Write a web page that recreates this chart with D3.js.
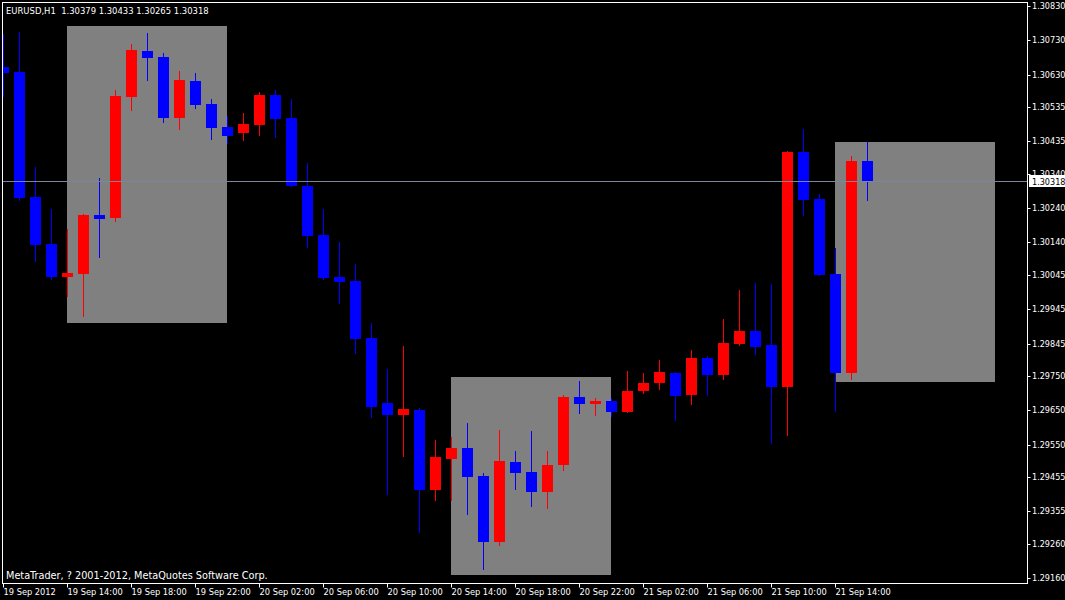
<!DOCTYPE html>
<html><head><meta charset="utf-8">
<script src="https://cdn.jsdelivr.net/npm/d3@7"></script>
<style>
html,body{margin:0;padding:0;background:#000;overflow:hidden;}
text{font-family:"DejaVu Sans Condensed","DejaVu Sans",sans-serif;}
</style></head>
<body><svg id="c" width="1065" height="600"></svg>
<script>
// ---- data ----
const symbolTitle = "EURUSD,H1";
const copyright = "MetaTrader, ? 2001-2012, MetaQuotes Software Corp.";
const barIndex = d3.range(55);
const opens  = [1.30652,1.30637,1.30273,1.30136,1.30039,1.30048,1.30220,1.30211,1.30564,1.30699,1.30681,1.30503,1.30611,1.30544,1.30477,1.30459,1.30483,1.30570,1.30503,1.30305,1.30162,1.30039,1.30028,1.29861,1.29672,1.29637,1.29651,1.29418,1.29508,1.29540,1.29459,1.29266,1.29499,1.29470,1.29412,1.29491,1.29689,1.29669,1.29677,1.29645,1.29707,1.29730,1.29759,1.29695,1.29803,1.29753,1.29844,1.29882,1.29841,1.29718,1.30404,1.30267,1.30048,1.29759,1.30379];
const highs  = [1.30748,1.30754,1.30360,1.30238,1.30179,1.30223,1.30328,1.30585,1.30719,1.30751,1.30693,1.30640,1.30634,1.30559,1.30509,1.30518,1.30579,1.30585,1.30559,1.30372,1.30238,1.30141,1.30077,1.29905,1.29771,1.29838,1.29657,1.29564,1.29572,1.29613,1.29467,1.29593,1.29532,1.29590,1.29532,1.29695,1.29736,1.29686,1.29686,1.29765,1.29759,1.29797,1.29762,1.29826,1.29809,1.29917,1.30001,1.30022,1.30019,1.30407,1.30471,1.30281,1.30124,1.30392,1.30433];
const lows   = [1.30567,1.30264,1.30086,1.30033,1.29984,1.29925,1.30098,1.30203,1.30527,1.30614,1.30492,1.30471,1.30532,1.30442,1.30430,1.30439,1.30454,1.30448,1.30305,1.30127,1.30033,1.29963,1.29818,1.29631,1.29406,1.29517,1.29295,1.29389,1.29389,1.29348,1.29187,1.29257,1.29421,1.29371,1.29365,1.29476,1.29642,1.29637,1.29634,1.29645,1.29701,1.29712,1.29622,1.29669,1.29695,1.29742,1.29841,1.29815,1.29555,1.29578,1.30220,1.30045,1.29648,1.29742,1.30265];
const closes = [1.30634,1.30270,1.30133,1.30039,1.30051,1.30220,1.30209,1.30567,1.30702,1.30678,1.30503,1.30614,1.30541,1.30474,1.30451,1.30486,1.30570,1.30500,1.30305,1.30159,1.30036,1.30025,1.29858,1.29660,1.29637,1.29654,1.29418,1.29514,1.29540,1.29456,1.29266,1.29502,1.29467,1.29412,1.29491,1.29689,1.29669,1.29677,1.29645,1.29707,1.29730,1.29762,1.29692,1.29803,1.29753,1.29847,1.29882,1.29835,1.29718,1.30404,1.30264,1.30045,1.29759,1.30378,1.30318];
const currentPrice = 1.30318;
// session boxes: [start bar, end bar, top price, bottom price]
const boxStart = [4, 28, 52];
const boxEnd   = [14, 38, 62];
const boxTop   = [1.30772, 1.29747, 1.30433];
const boxBottom= [1.29905, 1.29170, 1.29733];
const priceTicks = ["1.30830","1.30730","1.30630","1.30535","1.30435","1.30340","1.30240","1.30140","1.30045","1.29945","1.29845","1.29750","1.29650","1.29550","1.29455","1.29355","1.29260","1.29160"];
const timeTickBars = [0,4,8,12,16,20,24,28,32,36,40,44,48,52];
const timeTickLabels = ["19 Sep 2012","19 Sep 14:00","19 Sep 18:00","19 Sep 22:00","20 Sep 02:00","20 Sep 06:00","20 Sep 10:00","20 Sep 14:00","20 Sep 18:00","20 Sep 22:00","21 Sep 02:00","21 Sep 06:00","21 Sep 10:00","21 Sep 14:00"];

// ---- layout ----
const svg = d3.select("#c");
const L = 2, T = 2, R = 1027, B = 583;
const x = d3.scaleLinear().domain([0, 64]).range([3.5, 1027.5]);
const y = d3.scaleLinear().domain([1.30830, 1.29160]).range([6, 578.3]);
const bull = "#ff0000", bear = "#0000ff";
const FF = "'DejaVu Sans Condensed','DejaVu Sans',sans-serif";

svg.append("rect").attr("width",1065).attr("height",600).attr("fill","#000");
svg.append("defs").append("clipPath").attr("id","plot")
  .append("rect").attr("x",L+1).attr("y",T+1).attr("width",R-L-1).attr("height",B-T-1);
const g = svg.append("g").attr("clip-path","url(#plot)");

// boxes
g.selectAll("rect.box").data(boxStart).join("rect").attr("class","box")
  .attr("x",(d)=>Math.floor(x(d)))
  .attr("width",(d,i)=>Math.floor(x(boxEnd[i]))-Math.floor(x(d)))
  .attr("y",(d,i)=>Math.round(y(boxTop[i])))
  .attr("height",(d,i)=>Math.round(y(boxBottom[i]))-Math.round(y(boxTop[i])))
  .attr("fill","#808080");

// candles
const cg = g.selectAll("g.c").data(barIndex).join("g").attr("class","c");
cg.append("line")
  .attr("x1",i=>Math.floor(x(i))+0.5).attr("x2",i=>Math.floor(x(i))+0.5)
  .attr("y1",i=>Math.round(y(highs[i]))).attr("y2",i=>Math.round(y(lows[i]))+1)
  .attr("stroke",i=>closes[i]>=opens[i]?bull:bear).attr("stroke-width",1);
cg.append("rect")
  .attr("x",i=>Math.floor(x(i))-5).attr("width",11)
  .attr("y",i=>Math.round(y(Math.max(opens[i],closes[i]))))
  .attr("height",i=>Math.max(1,Math.round(y(Math.min(opens[i],closes[i])))-Math.round(y(Math.max(opens[i],closes[i])))))
  .attr("fill",i=>closes[i]>=opens[i]?bull:bear);

// bid line
const yb = Math.round(y(currentPrice))+0.5;
svg.append("line").attr("x1",L+1).attr("x2",R).attr("y1",yb).attr("y2",yb)
  .attr("stroke","#778899").attr("stroke-width",1);

// frame
svg.append("rect").attr("x",L+0.5).attr("y",T+0.5).attr("width",R-L).attr("height",B-T)
  .attr("fill","none").attr("stroke","#fff").attr("stroke-width",1);

// right axis (skip label hidden behind the current price label)
const ay = svg.append("g").attr("transform",`translate(${R+0.5},0)`)
  .call(d3.axisRight(y).tickValues(priceTicks.map(Number)).tickFormat((d,i)=>priceTicks[i]).tickSize(3).tickPadding(2));
ay.select(".domain").remove();
ay.selectAll("line").attr("stroke","#fff");
ay.selectAll(".tick").attr("transform",d=>`translate(0,${Math.round(y(d))+0.5})`);
ay.selectAll("text").attr("fill","#fff").attr("font-size","9px").attr("x",4.5).attr("font-family",FF);

// current price label
svg.append("rect").attr("x",1029).attr("y",yb-6.5).attr("width",36).attr("height",12).attr("fill","#fff");
svg.append("text").attr("x",1032).attr("y",yb+3.5).attr("fill","#000").attr("font-size","9px").attr("font-family",FF).text(currentPrice.toFixed(5));

// bottom axis
const ax = svg.append("g").attr("transform",`translate(0,${B+0.5})`)
  .call(d3.axisBottom(x).tickValues(timeTickBars).tickFormat((d,i)=>timeTickLabels[i]).tickSize(4).tickPadding(2));
ax.select(".domain").remove();
ax.selectAll(".tick").attr("transform",d=>`translate(${Math.floor(x(d))+0.5},0)`);
ax.selectAll("line").attr("stroke","#fff");
ax.selectAll("text").attr("fill","#fff").attr("font-size","9.2px").attr("text-anchor","start").attr("x",0).attr("y",5).attr("font-family",FF);

// title & copyright
svg.append("text").attr("x",6).attr("y",14).attr("fill","#fff").attr("font-size","9.4px").attr("font-family",FF).attr("xml:space","preserve")
  .text(`${symbolTitle}  ${opens[54].toFixed(5)} ${highs[54].toFixed(5)} ${lows[54].toFixed(5)} ${closes[54].toFixed(5)}`);
svg.append("text").attr("x",6).attr("y",578.5).attr("fill","#fff").attr("font-size","10.8px").attr("font-family",FF).text(copyright);
</script></body></html>
